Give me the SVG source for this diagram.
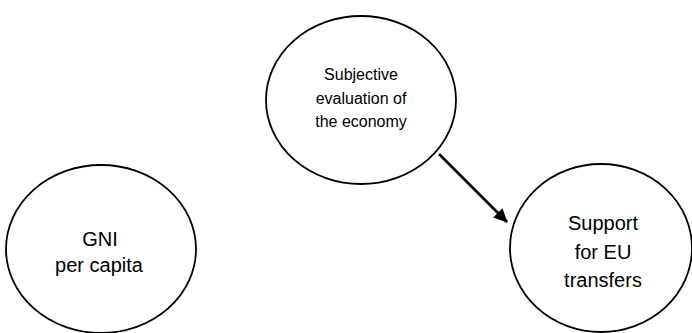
<svg xmlns="http://www.w3.org/2000/svg" width="692" height="333" viewBox="0 0 692 333">
<style>
.node ellipse{fill:#fff;stroke:#000;stroke-width:1.8}
.node text{font-family:"Liberation Sans",Arial,sans-serif;fill:#000;text-anchor:middle}
.t17{font-size:16px}
.t21{font-size:20px}
.conn line{stroke:#000;stroke-width:2.6}
</style>
<defs>
<marker id="arr" markerWidth="14" markerHeight="13" refX="13" refY="6.5" orient="auto" markerUnits="userSpaceOnUse" viewBox="0 0 14 13">
<path d="M0,0 L14,6.5 L0,13 z" fill="#000"/>
</marker>
</defs>
<rect width="692" height="333" fill="#fff"/>
<g id="node-subjective" class="node">
<ellipse cx="361" cy="100" rx="95" ry="84"/>
<text class="t17" x="361" y="80">Subjective</text>
<text class="t17" x="361" y="104">evaluation of</text>
<text class="t17" x="361" y="127">the economy</text>
</g>
<g id="node-gni" class="node">
<ellipse cx="101" cy="249" rx="95" ry="84"/>
<text class="t21" x="100" y="246">GNI</text>
<text class="t21" x="99" y="272">per capita</text>
</g>
<g id="node-support" class="node">
<ellipse cx="601" cy="248" rx="91" ry="84"/>
<text class="t21" x="603" y="230">Support</text>
<text class="t21" x="603" y="259">for EU</text>
<text class="t21" x="603" y="287">transfers</text>
</g>
<g id="connectors" class="conn">
<line x1="439" y1="154" x2="507" y2="222" marker-end="url(#arr)"/>
</g>
</svg>
